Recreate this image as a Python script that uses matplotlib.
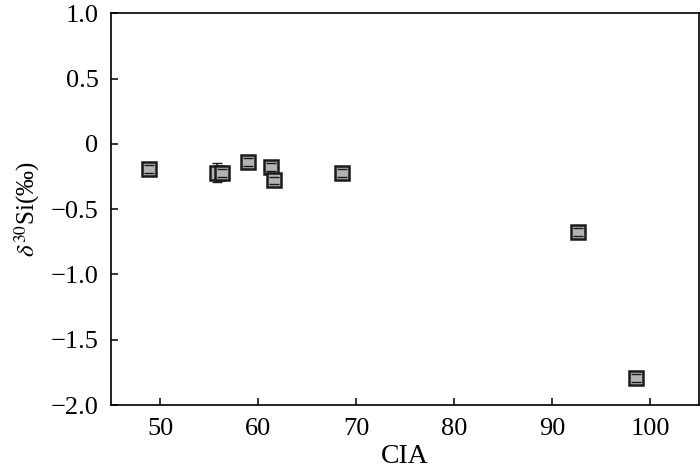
import numpy as np
import matplotlib
matplotlib.use("Agg")
import matplotlib.pyplot as plt

# CIA vs d30Si
cia = [48.9, 55.8, 56.3, 59.0, 61.3, 61.6, 68.6, 92.6, 98.6]
d30si = [-0.19, -0.22, -0.22, -0.14, -0.18, -0.28, -0.22, -0.675, -1.795]
err = [0.03, 0.075, 0.03, 0.03, 0.03, 0.03, 0.03, 0.03, 0.03]

y_ticks = [-2.0, -1.5, -1.0, -0.5, 0, 0.5, 1.0]
y_ticklabels = ["\u22122.0", "\u22121.5", "\u22121.0", "\u22120.5", "0", "0.5", "1.0"]
x_ticks = [50, 60, 70, 80, 90, 100]

plt.rcParams['font.family'] = ['Liberation Serif', 'DejaVu Serif']
plt.rcParams['mathtext.fontset'] = 'stix'

fig = plt.figure(figsize=(7, 4.76), dpi=100)
ax = fig.add_axes([0.1586, 0.149, 0.84, 0.823])

# squares, with error bar stems hidden behind them and caps drawn on top
ax.plot(cia, d30si, 's', markersize=10, markerfacecolor='#b3b3b3',
        markeredgecolor='#1a1a1a', markeredgewidth=1.8, zorder=3)
eb = ax.errorbar(cia, d30si, yerr=err, fmt='none', ecolor='#1a1a1a',
                 elinewidth=1.2, capsize=3.5, capthick=1.0, zorder=2)
for cap in eb[1]:
    cap.set_zorder(4)

ax.set_xlim(45, 105)
ax.set_ylim(-2.0, 1.0)
ax.set_xticks(x_ticks)
ax.set_xticklabels([str(v) for v in x_ticks])
ax.set_yticks(y_ticks)
ax.set_yticklabels(y_ticklabels)

ax.tick_params(direction='in', length=5, width=1.1, labelsize=19,
               top=False, right=False, pad=9)
for s in ax.spines.values():
    s.set_linewidth(1.2)

ax.set_xlabel('CIA', fontsize=20, labelpad=3)
ax.set_ylabel(r'$\delta^{30}$Si(‰)', fontsize=18, labelpad=6)

fig.savefig('out.png', dpi=100)
